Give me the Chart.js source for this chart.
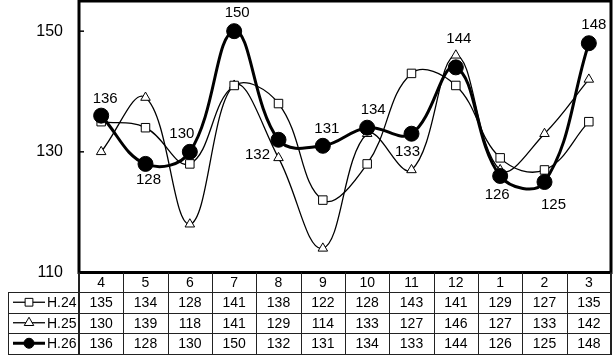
<!DOCTYPE html>
<html>
<head>
<meta charset="utf-8">
<script src="https://cdn.jsdelivr.net/npm/chart.js@4/dist/chart.umd.min.js"></script>
<style>
html,body{margin:0;padding:0;background:#fff;}
canvas{display:block;}
</style>
</head>
<body>
<canvas id="c" width="614" height="360"></canvas>
<script>
const categories = ['4','5','6','7','8','9','10','11','12','1','2','3'];
const seriesNames = ['H.24','H.25','H.26'];
const h24 = [135,134,128,141,138,122,128,143,141,129,127,135];
const h25 = [130,139,118,141,129,114,133,127,146,127,133,142];
const h26 = [136,128,130,150,132,131,134,133,144,126,125,148];
const yTicks = [110,130,150];
const yMin = 110, yMax = 155;

const FONT = '"Liberation Sans", Arial, sans-serif';

// label placement for H.26 (dx, dy in px from point)
const labelOffsets = [[4,-17],[3,16],[-8,-18],[3,-18],[-21,15],[4,-17],[6,-18],[-4,18],[3,-29],[-3,19],[9,23],[5,-18]];

function drawMarker(ctx, style, x, y, r, fill) {
  ctx.save();
  ctx.beginPath();
  if (style === 'rect') {
    const s = r * Math.SQRT1_2;
    ctx.rect(x - s, y - s, 2 * s, 2 * s);
  } else if (style === 'triangle') {
    ctx.moveTo(x, y - r);
    ctx.lineTo(x + r * Math.sin(Math.PI / 3), y + r * 0.5);
    ctx.lineTo(x - r * Math.sin(Math.PI / 3), y + r * 0.5);
    ctx.closePath();
  } else {
    ctx.arc(x, y, r, 0, Math.PI * 2);
  }
  ctx.fillStyle = fill;
  ctx.fill();
  ctx.lineWidth = 1;
  ctx.strokeStyle = '#000';
  ctx.stroke();
  ctx.restore();
}

const framePlugin = {
  id: 'frame',
  afterDraw(chart) {
    const ctx = chart.ctx;
    const a = chart.chartArea;
    const x = chart.scales.x, y = chart.scales.y;
    ctx.save();
    ctx.strokeStyle = '#000';
    ctx.lineWidth = 1.5;
    yTicks.forEach(v => {
      const py = y.getPixelForValue(v);
      ctx.beginPath();
      ctx.moveTo(a.left, py);
      ctx.lineTo(a.left + 5, py);
      ctx.stroke();
    });
    ctx.lineWidth = 3;
    ctx.strokeRect(a.left, a.top, a.right - a.left, a.bottom - a.top);

    ctx.fillStyle = '#000';
    ctx.font = '15px ' + FONT;
    ctx.textAlign = 'center';
    ctx.textBaseline = 'middle';
    h26.forEach((v, i) => {
      const px = x.getPixelForValue(i), py = y.getPixelForValue(v);
      const o = labelOffsets[i];
      ctx.fillText(String(v), px + o[0], py + o[1]);
    });

    const cw = (a.right - a.left) / categories.length;
    const tLeft = 8;
    const r0 = a.bottom;
    const rows = [r0, r0 + 19.5, r0 + 40, r0 + 60.5, r0 + 81];
    ctx.strokeStyle = '#222';
    ctx.lineWidth = 1;
    for (let k = 1; k < rows.length; k++) {
      const yy = Math.round(rows[k]) + 0.5;
      ctx.beginPath();
      ctx.moveTo(tLeft, yy);
      ctx.lineTo(a.right + 1, yy);
      ctx.stroke();
    }
    for (let k = 1; k < categories.length; k++) {
      const xx = Math.round(a.left + k * cw) + 0.5;
      ctx.beginPath();
      ctx.moveTo(xx, r0);
      ctx.lineTo(xx, Math.round(rows[4]) + 0.5);
      ctx.stroke();
    }
    ctx.beginPath();
    ctx.moveTo(tLeft + 0.5, Math.round(rows[1]) + 0.5);
    ctx.lineTo(tLeft + 0.5, Math.round(rows[4]) + 0.5);
    ctx.stroke();
    ctx.lineWidth = 2;
    ctx.beginPath();
    ctx.moveTo(a.left, r0);
    ctx.lineTo(a.left, Math.round(rows[4]) + 1);
    ctx.moveTo(a.right, r0);
    ctx.lineTo(a.right, Math.round(rows[4]) + 1);
    ctx.stroke();

    ctx.fillStyle = '#000';
    ctx.font = '14px ' + FONT;
    categories.forEach((c, i) => {
      ctx.fillText(c, a.left + (i + 0.5) * cw, (rows[0] + rows[1]) / 2 + 1);
    });
    const seriesData = [h24, h25, h26];
    const styles = [
      {p: 'rect', r: 5.5, fill: '#fff', lw: 1.3},
      {p: 'triangle', r: 5.5, fill: '#fff', lw: 1.3},
      {p: 'circle', r: 5, fill: '#000', lw: 3}
    ];
    seriesData.forEach((arr, s) => {
      const cy = (rows[s + 1] + rows[s + 2]) / 2 + 1;
      ctx.font = '14px ' + FONT;
      ctx.textAlign = 'center';
      arr.forEach((v, i) => {
        ctx.fillText(String(v), a.left + (i + 0.5) * cw, cy);
      });
      const st = styles[s];
      ctx.strokeStyle = '#000';
      ctx.lineWidth = st.lw;
      ctx.beginPath();
      ctx.moveTo(13, cy - 1);
      ctx.lineTo(45, cy - 1);
      ctx.stroke();
      drawMarker(ctx, st.p, 29, cy - 1, st.r, st.fill);
      ctx.fillStyle = '#000';
      ctx.textAlign = 'left';
      ctx.font = '14px ' + FONT;
      ctx.fillText(seriesNames[s], 47, cy);
    });
    ctx.restore();
  }
};

new Chart(document.getElementById('c'), {
  type: 'line',
  data: {
    labels: categories,
    datasets: [
      {
        label: seriesNames[0], data: h24, order: 1,
        borderColor: '#000', borderWidth: 1.3, tension: 0.4,
        pointStyle: 'rect', pointRadius: 6, pointBackgroundColor: '#fff',
        pointBorderColor: '#000', pointBorderWidth: 1
      },
      {
        label: seriesNames[1], data: h25, order: 2,
        borderColor: '#000', borderWidth: 1.3, tension: 0.4,
        pointStyle: 'triangle', pointRadius: 5.5, pointBackgroundColor: '#fff',
        pointBorderColor: '#000', pointBorderWidth: 1
      },
      {
        label: seriesNames[2], data: h26, order: 0,
        borderColor: '#000', borderWidth: 3, tension: 0.4,
        pointStyle: 'circle', pointRadius: 7.5, pointBackgroundColor: '#000',
        pointBorderColor: '#000', pointBorderWidth: 1
      }
    ]
  },
  options: {
    responsive: false,
    animation: false,
    devicePixelRatio: 1,
    layout: { autoPadding: false, padding: { left: 0, right: 3, top: 1, bottom: 87.5 } },
    plugins: { legend: { display: false }, tooltip: { enabled: false } },
    scales: {
      x: { type: 'category', display: false, offset: true },
      y: {
        min: yMin, max: yMax,
        afterBuildTicks: s => { s.ticks = yTicks.map(v => ({ value: v })); },
        afterFit: s => { s.width = 79; s.paddingTop = 0; s.paddingBottom = 0; },
        grid: { display: false, drawTicks: false },
        border: { display: false },
        ticks: { color: '#000', font: { size: 16, family: FONT }, padding: 16 }
      }
    }
  },
  plugins: [framePlugin]
});
</script>
</body>
</html>
